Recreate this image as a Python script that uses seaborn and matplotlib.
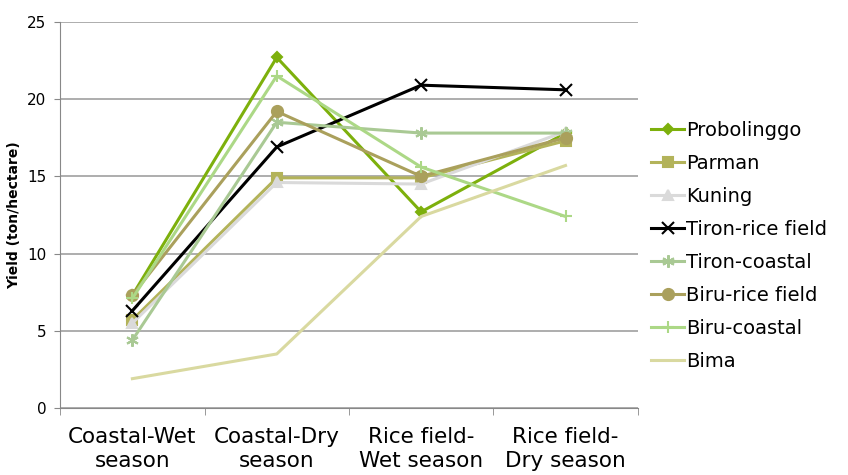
import matplotlib
matplotlib.use("Agg")
import matplotlib.pyplot as plt
import seaborn as sns
import pandas as pd

# seasons on the x axis
seasons = ["Coastal-Wet\nseason", "Coastal-Dry\nseason", "Rice field-\nWet season", "Rice field-\nDry season"]

# yield per variety (ton/hectare)
varieties = ["Probolinggo", "Parman", "Kuning", "Tiron-rice field",
             "Tiron-coastal", "Biru-rice field", "Biru-coastal", "Bima"]
probolinggo = [7.3, 22.7, 12.7, 17.8]
parman = [5.7, 14.9, 14.9, 17.3]
kuning = [5.5, 14.6, 14.5, 17.9]
tiron_rice = [6.3, 16.9, 20.9, 20.6]
tiron_coastal = [4.4, 18.5, 17.8, 17.8]
biru_rice = [7.3, 19.2, 15.0, 17.5]
biru_coastal = [7.1, 21.5, 15.6, 12.4]
bima = [1.9, 3.5, 12.4, 15.7]
all_values = [probolinggo, parman, kuning, tiron_rice,
              tiron_coastal, biru_rice, biru_coastal, bima]

colors = ["#7db00c", "#b3b35a", "#dadada", "#000000",
          "#a9c994", "#aaa05c", "#acd886", "#d9d9a0"]
markers = ["D", "s", "^", "x", (6, 2, 0), "o", "+", None]
msizes = [5, 7, 7, 8, 9, 8, 9, 0]

plt.rcParams['font.family'] = ['DejaVu Sans']

fig = plt.figure(figsize=(8.48, 4.75), dpi=100)
ax = fig.add_axes([0.071, 0.141, 0.681, 0.813])

#draw each variety as its own line
for i in range(len(varieties)):
    df = pd.DataFrame({"season": seasons, "yield": all_values[i]})
    sns.lineplot(data=df, x="season", y="yield", ax=ax, color=colors[i],
                 marker=markers[i], markersize=msizes[i], linewidth=2.2,
                 markeredgecolor=colors[i], markeredgewidth=1.5,
                 label=varieties[i], sort=False)

ax.set_xlim(-0.5, 3.5)
ax.set_ylim(0, 25)
ax.set_yticks([0, 5, 10, 15, 20, 25])
ax.yaxis.grid(True, color="#a0a0a0", linewidth=1.2)
ax.set_axisbelow(True)

#ticks on the boundaries between categories
ax.set_xticks([-0.5, 0.5, 1.5, 2.5, 3.5], minor=True)
ax.tick_params(axis="x", which="major", length=0, labelsize=15.5, pad=14)
ax.tick_params(axis="x", which="minor", length=5, color="#888888")
ax.tick_params(axis="y", length=4, color="#888888", labelsize=11, pad=6)

for side in ["top", "right"]:
    ax.spines[side].set_visible(False)
for side in ["left", "bottom"]:
    ax.spines[side].set_color("#888888")

ax.set_xlabel("")
ax.set_ylabel("Yield (ton/hectare)", fontsize=10, fontweight="bold", labelpad=4)

ax.legend(loc="center left", bbox_to_anchor=(1.0, 0.42), frameon=False,
          fontsize=14, handlelength=1.7, handletextpad=0.1, labelspacing=0.72,
          borderaxespad=0.3)

fig.savefig("out.png", dpi=100)
